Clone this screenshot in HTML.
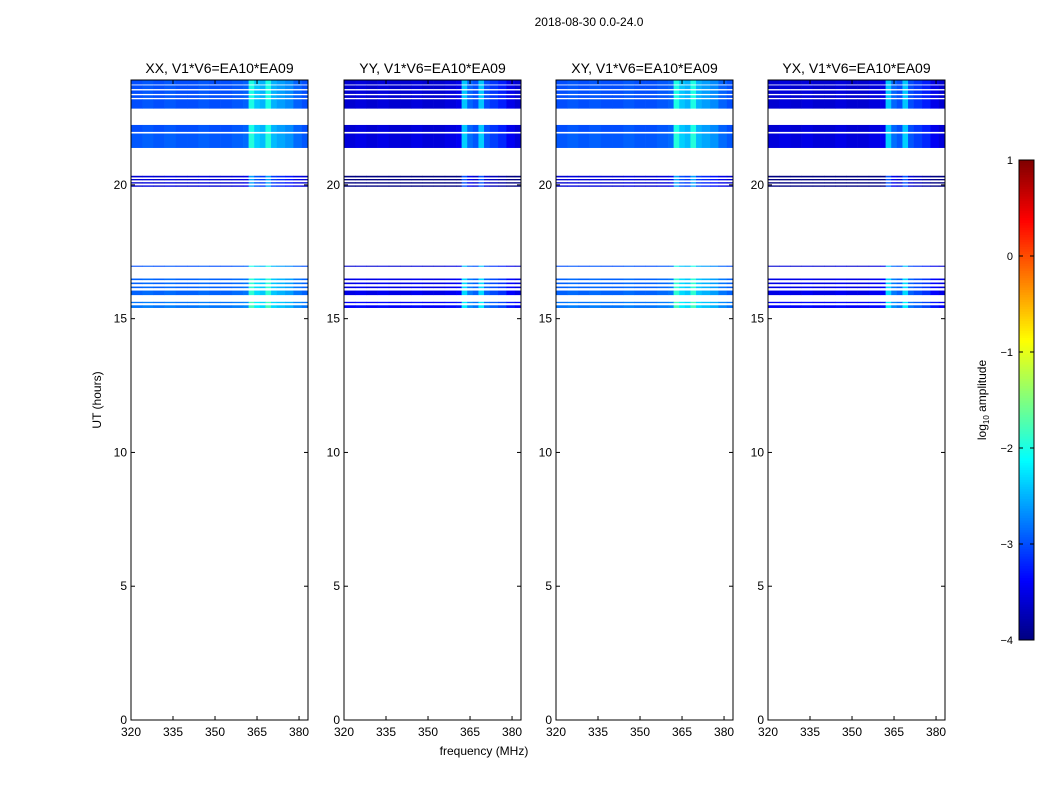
<!DOCTYPE html>
<html><head><meta charset="utf-8"><style>
body{margin:0;background:#fff;}
svg{display:block;font-family:"Liberation Sans","DejaVu Sans",sans-serif;}
</style></head><body>
<svg id="fig" width="1050" height="800" viewBox="0 0 1050 800">
<rect width="1050" height="800" fill="#fff"/>
<text x="589" y="26" font-size="12" text-anchor="middle">2018-08-30 0.0-24.0</text>
<text x="484" y="755" font-size="12" text-anchor="middle">frequency (MHz)</text>
<text transform="translate(101,400) rotate(-90)" font-size="12" text-anchor="middle">UT (hours)</text>
<g id="panels"></g>
<g id="cbar"></g>
</svg>
<script>
// ---- data ----
const panelTitles = ["XX, V1*V6=EA10*EA09","YY, V1*V6=EA10*EA09","XY, V1*V6=EA10*EA09","YX, V1*V6=EA10*EA09"];
const panelBase = [-3.0, -3.6, -3.0, -3.6];
const xTicks = [320,335,350,365,380];
const yTicks = [0,5,10,15,20];
// time bands [start hour, end hour]
const bandStart = [23.75,23.58,23.40,23.25,22.85, 21.98,21.38, 20.28,20.17,20.05,19.93, 16.94,16.44,16.29,16.14,15.88,15.58,15.40];
const bandEnd   = [23.92,23.72,23.53,23.35,23.20, 22.24,21.92, 20.34,20.22,20.10,19.98, 16.98,16.50,16.35,16.20,16.05,15.63,15.50];
const bandLevel = [0,0,0,0,0, 0,0.05, -0.6,-0.6,-0.6,-0.6, 0,0.1,0.1,0.1,0.1,0.2,0.2];
// frequency channel starts (MHz) and profile offsets
const chanFreq = [320,324,328,332,336,340,344,348,352,356,360,362,364,366,368,370,372,375,378,381];
const chanOff  = [0,0.05,0,0.05,0,0,0.05,0,0,0.05,0.1,1.0,0.6,0.5,1.0,0.5,0.4,0.3,0.1,0];
const cbTicks = [1,0,-1,-2,-3,-4];

// ---- layout ----
const panelX0 = [131,344,556,768];
const pw = 177, plotTop = 80, plotBot = 720;
const xmin = 320, xmax = 383.2, ymin = 0, ymax = 23.92;
const NS = "http://www.w3.org/2000/svg";
function jet(v){
  let t = Math.max(0, Math.min(1, (v+4)/5));
  const r = Math.max(0, Math.min(1, 1.5 - Math.abs(4*t-3)));
  const g = Math.max(0, Math.min(1, 1.5 - Math.abs(4*t-2)));
  const b = Math.max(0, Math.min(1, 1.5 - Math.abs(4*t-1)));
  return `rgb(${Math.round(r*255)},${Math.round(g*255)},${Math.round(b*255)})`;
}
function mk(tag, attrs, parent){const e=document.createElementNS(NS,tag);for(const k in attrs)e.setAttribute(k,attrs[k]);parent.appendChild(e);return e;}
const panels = document.getElementById('panels');
panelX0.forEach((x0,p)=>{
  const sx = f => x0 + (f-xmin)/(xmax-xmin)*pw;
  const sy = h => plotBot - (h-ymin)/(ymax-ymin)*(plotBot-plotTop);
  const g = mk('g',{},panels);
  
  
  bandStart.forEach((hs,bi)=>{
    const he = bandEnd[bi];
    chanFreq.forEach((f,ci)=>{
      const fe = ci+1<chanFreq.length ? chanFreq[ci+1] : xmax;
      const v = panelBase[p] + bandLevel[bi] + chanOff[ci]*(p%2?1.2:1);
      const r = mk('rect',{x:sx(f),y:sy(he),width:sx(fe)-sx(f)+0.3,height:Math.max(1,sy(hs)-sy(he)),fill:jet(v)},g);
      
      
    });
  });
  const fr = mk('rect',{x:x0,y:plotTop,width:pw,height:plotBot-plotTop,fill:'none',stroke:'#000','stroke-width':1},g);
  
  
  const t = mk('text',{x:x0+pw/2,y:73,'font-size':14,'text-anchor':'middle'},g);
  t.textContent = panelTitles[p];
  
  
  xTicks.forEach(v=>{
    const x = sx(v);
    mk('line',{x1:x,x2:x,y1:plotBot,y2:plotBot-4,stroke:'#000'},g);
    mk('line',{x1:x,x2:x,y1:plotTop,y2:plotTop+4,stroke:'#000'},g);
    const l = mk('text',{x:x,y:plotBot+16,'font-size':12,'text-anchor':'middle'},g);
    l.textContent = v;
    
    
  });
  yTicks.forEach(v=>{
    const y = sy(v);
    mk('line',{x1:x0,x2:x0+4,y1:y,y2:y,stroke:'#000'},g);
    mk('line',{x1:x0+pw,x2:x0+pw-4,y1:y,y2:y,stroke:'#000'},g);
    const l = mk('text',{x:x0-4,y:y+4,'font-size':12,'text-anchor':'end'},g);
    l.textContent = v;
    
    
  });
});
// colorbar
const cb = document.getElementById('cbar');
const cbX=1019, cbW=15, cbT=160, cbB=640;
const cy = v => cbB - (v+4)/5*(cbB-cbT);
for(let i=0;i<200;i++){
  const v0 = -4 + i*5/200;
  const r = mk('rect',{x:cbX,y:cy(v0+5/200),width:cbW,height:(cbB-cbT)/200+0.5,fill:jet(v0+2.5/200)},cb);
  
  
}
const cbf = mk('rect',{x:cbX,y:cbT,width:cbW,height:cbB-cbT,fill:'none',stroke:'#000'},cb);


cbTicks.forEach(v=>{
  const y = cy(v);
  mk('line',{x1:cbX,x2:cbX+4,y1:y,y2:y,stroke:'#000'},cb);
  mk('line',{x1:cbX+cbW,x2:cbX+cbW-4,y1:y,y2:y,stroke:'#000'},cb);
  const l = mk('text',{x:1013,y:y+4,'font-size':11,'text-anchor':'end'},cb);
  l.textContent = v<0 ? '\u2212'+Math.abs(v) : String(v);
  
  
});
const ct = mk('text',{transform:'translate(986,400) rotate(-90)','font-size':12,'text-anchor':'middle'},cb);
ct.innerHTML = 'log<tspan font-size="8" dy="3">10</tspan><tspan dy="-3"> amplitude</tspan>';


</script>
</body></html>
